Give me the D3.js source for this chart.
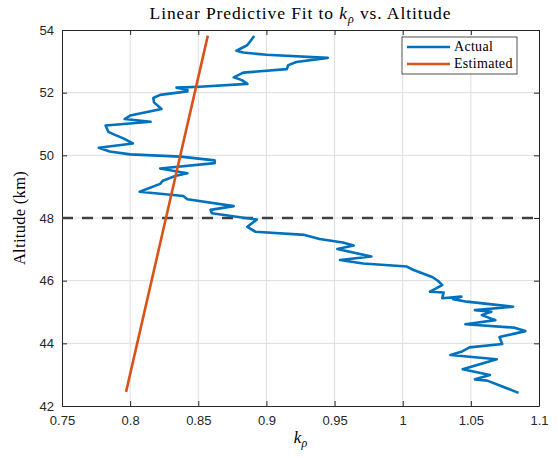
<!DOCTYPE html>
<html>
<head>
<meta charset="utf-8">
<script src="https://cdn.jsdelivr.net/npm/d3@7"></script>
<style>
  body { margin: 0; background: #fff; }
  svg { display: block; }
</style>
</head>
<body>
<svg id="chart" width="558" height="458"></svg>
<script>
// measured k_rho profile, top of the column first
var actualK = [0.891, 0.888, 0.886, 0.883, 0.878, 0.883, 0.900, 0.945, 0.922, 0.916,
  0.915, 0.883, 0.876, 0.882, 0.886, 0.851, 0.834, 0.842, 0.842, 0.822,
  0.817, 0.8175, 0.823, 0.800, 0.796, 0.815, 0.782, 0.784, 0.788, 0.795,
  0.802, 0.777, 0.785, 0.800, 0.837, 0.862, 0.862, 0.822, 0.842, 0.833,
  0.824, 0.822, 0.807, 0.839, 0.842, 0.876, 0.859, 0.860, 0.893, 0.886,
  0.892, 0.928, 0.939, 0.956, 0.964, 0.952, 0.977, 0.954, 0.971, 1.003,
  1.008, 1.022, 1.026, 1.029, 1.020, 1.030, 1.029, 1.043, 1.037, 1.047,
  1.081, 1.053, 1.065, 1.058, 1.068, 1.046, 1.082, 1.090, 1.071, 1.073,
  1.049, 1.043, 1.035, 1.069, 1.044, 1.064, 1.053, 1.062, 1.085];
var actualAlt = [53.81, 53.63, 53.52, 53.45, 53.34, 53.28, 53.21, 53.11, 52.98, 52.88,
  52.75, 52.64, 52.49, 52.40, 52.28, 52.19, 52.16, 52.09, 52.04, 51.93,
  51.83, 51.69, 51.48, 51.27, 51.16, 51.07, 50.95, 50.75, 50.67, 50.54,
  50.38, 50.24, 50.12, 50.03, 49.96, 49.84, 49.75, 49.58, 49.43, 49.34,
  49.19, 49.09, 48.84, 48.70, 48.60, 48.38, 48.26, 48.15, 47.95, 47.72,
  47.56, 47.46, 47.33, 47.22, 47.12, 47.01, 46.77, 46.66, 46.55, 46.45,
  46.34, 46.11, 45.99, 45.86, 45.65, 45.62, 45.44, 45.49, 45.41, 45.33,
  45.17, 45.06, 45.01, 44.90, 44.74, 44.61, 44.50, 44.39, 44.20, 43.98,
  43.87, 43.73, 43.63, 43.49, 43.17, 42.99, 42.85, 42.81, 42.42];

// linear fit end points
var estK = [0.797, 0.857];
var estAlt = [42.45, 53.82];

var refAlt = 48;
var xTicks = [0.75, 0.8, 0.85, 0.9, 0.95, 1, 1.05, 1.1];
var yTicks = [42, 44, 46, 48, 50, 52, 54];
var seriesNames = ['Actual', 'Estimated'];
var seriesColors = ['#0072BD', '#D95319'];

var svg = d3.select('#chart');
var margin = {left: 62, right: 19, top: 30, bottom: 52};
var width = 558 - margin.left - margin.right;
var height = 458 - margin.top - margin.bottom;
var serif = '"Liberation Serif", "DejaVu Serif", serif';
var sans = '"Liberation Sans", Arial, sans-serif';
var axisColor = '#262626';

var x = d3.scaleLinear().domain([0.75, 1.1]).range([0, width]);
var y = d3.scaleLinear().domain([42, 54]).range([height, 0]);

var g = svg.append('g')
    .attr('transform', 'translate(' + margin.left + ',' + margin.top + ')');

// grid
g.append('g').selectAll('line')
  .data(xTicks.slice(1, -1)).enter().append('line')
    .attr('x1', function(d) { return x(d); })
    .attr('x2', function(d) { return x(d); })
    .attr('y1', 0).attr('y2', height)
    .attr('stroke', '#dedede').attr('stroke-width', 1);
g.append('g').selectAll('line')
  .data(yTicks.slice(1, -1)).enter().append('line')
    .attr('y1', function(d) { return y(d); })
    .attr('y2', function(d) { return y(d); })
    .attr('x1', 0).attr('x2', width)
    .attr('stroke', '#dedede').attr('stroke-width', 1);

// axes (ticks point inward, like matlab)
var xAxis = d3.axisBottom(x).tickValues(xTicks).tickSizeInner(-5).tickSizeOuter(0)
  .tickPadding(10).tickFormat(d3.format('~g'));
var yAxis = d3.axisLeft(y).tickValues(yTicks).tickSizeInner(-5).tickSizeOuter(0)
  .tickPadding(8).tickFormat(d3.format('~g'));
var xTop = d3.axisTop(x).tickValues(xTicks).tickSizeInner(-5).tickSizeOuter(0).tickFormat('');
var yRight = d3.axisRight(y).tickValues(yTicks).tickSizeInner(-5).tickSizeOuter(0).tickFormat('');

function styleAxis(sel) {
  sel.selectAll('path').attr('stroke', axisColor).attr('stroke-width', 1);
  sel.selectAll('line').attr('stroke', axisColor);
  sel.selectAll('text').attr('fill', axisColor)
    .style('font-family', sans).style('font-size', '13px');
}
g.append('g').attr('transform', 'translate(0,' + height + ')').call(xAxis).call(styleAxis);
g.append('g').call(yAxis).call(styleAxis);
g.append('g').call(xTop).call(styleAxis);
g.append('g').attr('transform', 'translate(' + width + ',0)').call(yRight).call(styleAxis);

// reference altitude
g.append('line')
  .attr('x1', 0).attr('x2', width)
  .attr('y1', y(refAlt)).attr('y2', y(refAlt))
  .attr('stroke', '#404040').attr('stroke-width', 2.6)
  .attr('stroke-dasharray', '11,9');

var line = d3.line()
  .x(function(d) { return x(d[0]); })
  .y(function(d) { return y(d[1]); });

g.append('path')
  .datum(d3.zip(actualK, actualAlt))
  .attr('d', line)
  .attr('fill', 'none')
  .attr('stroke', seriesColors[0])
  .attr('stroke-width', 2.6)
  .attr('stroke-linejoin', 'round');

g.append('path')
  .datum(d3.zip(estK, estAlt))
  .attr('d', line)
  .attr('fill', 'none')
  .attr('stroke', seriesColors[1])
  .attr('stroke-width', 2.6);

// legend
var lg = svg.append('g').attr('transform', 'translate(402,37)');
lg.append('rect')
  .attr('width', 115).attr('height', 37)
  .attr('fill', '#fff').attr('stroke', axisColor).attr('stroke-width', 0.8);
seriesNames.forEach(function(name, i) {
  var ly = 10 + i * 17;
  lg.append('line')
    .attr('x1', 5).attr('x2', 48).attr('y1', ly).attr('y2', ly)
    .attr('stroke', seriesColors[i]).attr('stroke-width', 2.6);
  lg.append('text')
    .attr('x', 52).attr('y', ly + 4)
    .style('font-family', serif).style('font-size', '14px')
    .style('letter-spacing', '0.3px')
    .attr('fill', '#000')
    .text(name);
});

// title
var title = svg.append('text')
  .attr('x', margin.left + width / 2).attr('y', 19)
  .attr('text-anchor', 'middle')
  .style('font-family', serif).style('font-size', '17.5px')
  .style('letter-spacing', '0.9px')
  .attr('fill', '#000');
title.append('tspan').text('Linear Predictive Fit to ');
title.append('tspan').style('font-style', 'italic').text('k');
title.append('tspan').attr('dy', 4).style('font-size', '12px').style('font-style', 'italic').text('ρ');
title.append('tspan').attr('dy', -4).text(' vs. Altitude');

// x label
var xl = svg.append('text')
  .attr('x', margin.left + width / 2).attr('y', 443)
  .attr('text-anchor', 'middle')
  .style('font-family', serif).style('font-size', '17px')
  .attr('fill', '#000');
xl.append('tspan').style('font-style', 'italic').text('k');
xl.append('tspan').attr('dy', 4).style('font-size', '12px').style('font-style', 'italic').text('ρ');

// y label
svg.append('text')
  .attr('transform', 'translate(25,' + (margin.top + height / 2) + ') rotate(-90)')
  .attr('text-anchor', 'middle')
  .style('font-family', serif).style('font-size', '16.5px')
  .style('letter-spacing', '0.3px')
  .attr('fill', '#000')
  .text('Altitude (km)');
</script>
</body>
</html>
